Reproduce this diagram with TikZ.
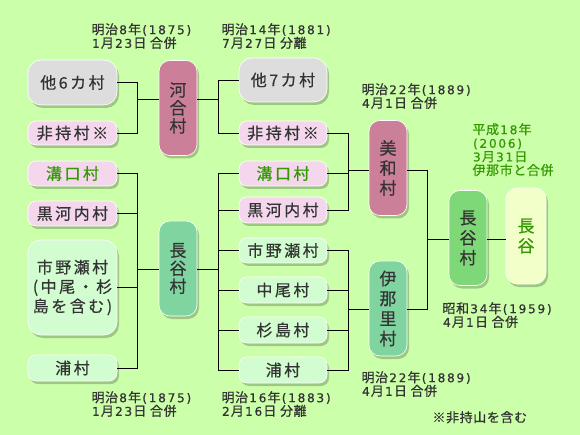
\documentclass[tikz,border=0pt]{standalone}
\usepackage{fontspec}
\setmainfont{Noto Sans CJK JP}
\newfontfamily\boxfont{Noto Sans CJK JP}[FakeBold=0.5]
\newfontfamily\lblfont{Noto Sans CJK JP}[FakeBold=0.6]
\newfontfamily\asciifont{DejaVu Sans}[FakeBold=0.8]
\usetikzlibrary{shadows}
\makeatletter
\newlength\trkw
\newcommand\trk[2][1.7pt]{\setlength\trkw{#1}\kern-\trkw\@tfor\trk@c:=#2\do{\kern\trkw\trk@c}}
\newcommand\lb[1]{\@tfor\lb@c:=#1\do{\ifnum\expandafter`\lb@c<128 {\asciifont\fontsize{12}{13.6}\selectfont\kern.9pt\lb@c\kern.9pt}\else\kern.3pt\lb@c\kern.3pt\fi}}
\makeatother
\definecolor{bg}{HTML}{CCFFAA}
\definecolor{txt}{HTML}{333333}
\definecolor{grn}{HTML}{339900}
\definecolor{cgray}{HTML}{DDDDDD}
\definecolor{cpink}{HTML}{F4D7EC}
\definecolor{cmauve}{HTML}{CC7F99}
\definecolor{cteal}{HTML}{80D4A0}
\definecolor{clight}{HTML}{D2FDD0}
\definecolor{cgreen}{HTML}{7FD878}
\definecolor{cpale}{HTML}{F2FFC8}
\tikzset{
  box/.style={rounded corners=8pt, draw=white, line width=.6pt, text=txt,
    font=\boxfont\fontsize{16}{19.5}\selectfont, align=center, inner sep=0pt,
    minimum width=89pt, minimum height=25pt,
    drop shadow={shadow xshift=2pt, shadow yshift=-3pt, opacity=.22, fill=black}},
  bigbox/.style={box, rounded corners=13pt},
  tall/.style={box, rounded corners=11pt, minimum width=38pt, minimum height=95pt,
    font=\boxfont\fontsize{17}{20}\selectfont},
  tight/.style={font=\boxfont\fontsize{17}{18}\selectfont},
  conn/.style={draw=black, line width=.9pt},
  lbl/.style={anchor=north west, inner sep=0pt, align=left, text=txt,
    font=\lblfont\fontsize{13}{13.6}\selectfont}
}
\begin{document}
\begin{tikzpicture}[x=1pt,y=-1pt]
\fill[bg] (0,0) rectangle (580,435);
\useasboundingbox (0,0) rectangle (580,435);

% left column
\node[bigbox, fill=cgray, minimum height=45pt] (a1) at (72.5,82.5) {\trk[2.5pt]{他6カ村}};
\node[box, fill=cpink, minimum height=24pt] (a2) at (72.5,133) {\trk[2.5pt]{非持村※}};
\node[box, fill=cpink, text=grn] (a3) at (72.5,173.5) {\trk[2.5pt]{溝口村}};
\node[box, fill=cpink] (a4) at (72.5,213.5) {\trk[2.5pt]{黒河内村}};
\node[bigbox, fill=clight, minimum height=95pt] (a5) at (72.5,287.5) {\trk[2.5pt]{市野瀬村}\\\trk[2.5pt]{(中尾・杉}\\\trk[2.5pt]{島を含む)}};
\node[box, fill=clight, minimum height=26pt] (a6) at (72.5,368) {\trk[2.5pt]{浦村}};

% merged (1875)
\node[tall, tight, fill=cmauve] (k1) at (178,108) {河\\合\\村};
\node[tall, tight, fill=cteal] (h1) at (178,268.5) {長\\谷\\村};

% second column
\node[bigbox, fill=cgray, minimum width=88pt, minimum height=44pt] (b1) at (283,80) {\trk[2.5pt]{他7カ村}};
\node[box, fill=cpink, minimum width=88pt, minimum height=24pt] (b2) at (283,133) {\trk[2.5pt]{非持村※}};
\node[box, fill=cpink, text=grn, minimum width=88pt] (b3) at (283,173.5) {\trk[2.5pt]{溝口村}};
\node[box, fill=cpink, minimum width=88pt, minimum height=26pt] (b4) at (283,210) {\trk[2.5pt]{黒河内村}};
\node[box, fill=clight, minimum width=88pt] (b5) at (283,250.5) {\trk[2.5pt]{市野瀬村}};
\node[box, fill=clight, minimum width=88pt, minimum height=26pt] (b6) at (283,290) {\trk[2.5pt]{中尾村}};
\node[box, fill=clight, minimum width=88pt, minimum height=26pt] (b7) at (283,330) {\trk[2.5pt]{杉島村}};
\node[box, fill=clight, minimum width=88pt, minimum height=26pt] (b8) at (283,370) {\trk[2.5pt]{浦村}};

% merged (1889)
\node[tall, fill=cmauve] (m1) at (388,168) {美\\和\\村};
\node[tall, fill=cteal] (i1) at (388,308.5) {伊\\那\\里\\村};
% 1959
\node[tall, fill=cgreen] (h2) at (468,238) {長\\谷\\村};
% 2006
\node[tall, fill=cpale, text=grn, minimum width=40pt, minimum height=96pt] (h3) at (526,236) {長\\谷};

% junctions
\coordinate (j1) at (137,99);
\coordinate (j2) at (218,99);
\coordinate (j3) at (137,269);
\coordinate (j4) at (218,269);
\coordinate (j5) at (348,170);
\coordinate (j6) at (348,309);
\coordinate (j7) at (427,239);

% connectors
\draw[conn] (a1.east) -| (j1);
\draw[conn] (a2.east) -| (j1);
\draw[conn] (j1) -- (j1 -| k1.west);
\draw[conn] (k1.east |- j2) -- (j2);
\draw[conn] (j2) |- (b1.west);
\draw[conn] (j2) |- (b2.west);

\draw[conn] (a3.east) -| (j3);
\draw[conn] (a4.east) -| (j3);
\draw[conn] (a5.east) -| (j3);
\draw[conn] (a6.east) -| (j3);
\draw[conn] (j3) -- (j3 -| h1.west);
\draw[conn] (h1.east |- j4) -- (j4);
\foreach \b in {b3,b4,b5,b6,b7,b8} \draw[conn] (j4) |- (\b.west);

\draw[conn] (b2.east) -| (j5);
\draw[conn] (b3.east) -| (j5);
\draw[conn] (b4.east) -| (j5);
\draw[conn] (j5) -- (j5 -| m1.west);

\draw[conn] (b5.east) -| (j6);
\draw[conn] (b6.east) -| (j6);
\draw[conn] (b7.east) -| (j6);
\draw[conn] (b8.east) -| (j6);
\draw[conn] (j6) -- (j6 -| i1.west);

\draw[conn] (m1.east |- j5) -| (j7);
\draw[conn] (i1.east |- j6) -| (j7);
\draw[conn] (j7) -- (j7 -| h2.west);
\draw[conn] (h2.east |- j7) -- (h3.west |- j7);

% labels
\node[lbl] (l1) at (91,23) {\lb{明治8年(1875)}\\\lb{1月23日}\hspace{3pt}\lb{合併}};
\node[lbl] (l2) at (221,23) {\lb{明治14年(1881)}\\\lb{7月27日}\hspace{3pt}\lb{分離}};
\node[lbl] (l3) at (361,83) {\lb{明治22年(1889)}\\\lb{4月1日}\hspace{3pt}\lb{合併}};
\node[lbl, text=grn] (l4) at (472,123) {\lb{平成18年}\\\lb{(2006)}\\\lb{3月31日}\\\lb{伊那市と合併}};
\node[lbl] (l5) at (91,391) {\lb{明治8年(1875)}\\\lb{1月23日}\hspace{3pt}\lb{合併}};
\node[lbl] (l6) at (221,391) {\lb{明治16年(1883)}\\\lb{2月16日}\hspace{3pt}\lb{分離}};
\node[lbl] (l7) at (361,371) {\lb{明治22年(1889)}\\\lb{4月1日}\hspace{3pt}\lb{合併}};
\node[lbl] (l8) at (442,302) {\lb{昭和34年(1959)}\\\lb{4月1日}\hspace{3pt}\lb{合併}};
\node[lbl] (l9) at (432,411) {\lb{※非持山を含む}};
\end{tikzpicture}
\end{document}
